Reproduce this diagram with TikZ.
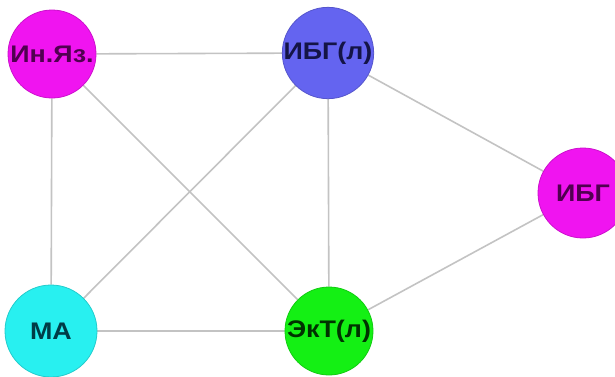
\documentclass[tikz,border=0pt]{standalone}
\usepackage{fontspec}
\setmainfont{Liberation Sans}
\usetikzlibrary{backgrounds}
\definecolor{cmag}{RGB}{240,20,240}
\definecolor{cmagd}{RGB}{80,0,80}
\definecolor{cblue}{RGB}{100,100,240}
\definecolor{cblued}{RGB}{20,20,70}
\definecolor{ccyan}{RGB}{40,240,240}
\definecolor{ccyand}{RGB}{0,60,70}
\definecolor{cgreen}{RGB}{20,240,20}
\definecolor{cgreend}{RGB}{0,50,0}
\definecolor{cedge}{RGB}{195,195,195}
\newcommand{\lbl}[1]{\scalebox{1.12}[1]{#1}}
\begin{document}
\begin{tikzpicture}[x=1pt,y=-1pt,
  vtx/.style={circle,minimum size=88pt,inner sep=0pt,line width=0.8pt,font=\fontsize{24}{24}\selectfont\bfseries},
  edge/.style={draw=cedge,line width=1.6pt}]
\useasboundingbox (0,0) rectangle (615,376);
\node[vtx,fill=cmag,draw=cmag!85!black,text=cmagd] (in) at (52,54) {\lbl{Ин.Яз.}};
\node[vtx,fill=cblue,draw=cblue!85!black,text=cblued] (ibgl) at (328,53) {\lbl{ИБГ(л)}};
\node[vtx,fill=cmag,draw=cmag!85!black,text=cmagd,minimum size=90pt] (ibg) at (583,193) {\lbl{ИБГ}};
\node[vtx,fill=ccyan,draw=ccyan!85!black,text=ccyand,minimum size=92pt] (ma) at (51,331) {\lbl{МА}};
\node[vtx,fill=cgreen,draw=cgreen!85!black,text=cgreend] (ekt) at (329,331) {\lbl{ЭкТ(л)}};
\begin{scope}[on background layer]
\draw[edge] (in) -- (ibgl);
\draw[edge] (in) -- (ma);
\draw[edge] (in) -- (ekt);
\draw[edge] (ibgl) -- (ma);
\draw[edge] (ibgl) -- (ekt);
\draw[edge] (ibgl) -- (ibg);
\draw[edge] (ibg) -- (ekt);
\draw[edge] (ma) -- (ekt);
\end{scope}
\end{tikzpicture}
\end{document}
